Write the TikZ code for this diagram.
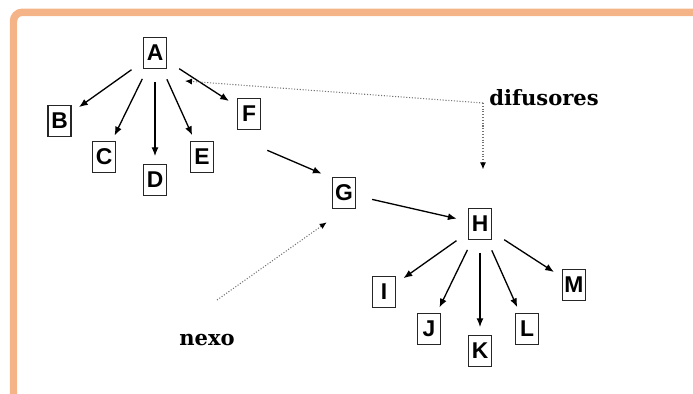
\documentclass[tikz,border=0pt]{standalone}
\usepackage{fontspec}
\setmainfont{Liberation Sans}
\newfontfamily\slabfont{DejaVu Serif}
\usetikzlibrary{arrows.meta}
\definecolor{frameorange}{RGB}{245,180,136}

\begin{document}
\begin{tikzpicture}[x=0.02cm, y=-0.02cm,
		c/.style={draw=black!85, line width=1pt, minimum width=13pt, minimum height=17.6pt, inner sep=0pt, font=\fontsize{13}{13}\selectfont\bfseries},
		l/.style={-{Latex[length=5pt,width=4pt]}, line width=0.75pt, shorten <=16.4pt, shorten >=13.6pt},
		p/.style={-{Latex[length=4pt,width=3.5pt,black]}, densely dotted, black!55, line width=0.6pt},
		t/.style={font=\slabfont\fontsize{12}{12}\selectfont\bfseries}]
		\useasboundingbox (0,0) rectangle (693,394);
		\draw[frameorange, line width=4.25pt, rounded corners=5pt] (13.5,394) -- (13.5,12.3) -- (693,12.3);

		% first tree
		\node[c] (a) at (155,53) {A};
		\node[c] (b) at (59.5,121) {B};
		\node[c] (c) at (104,157) {C};
		\node[c] (d) at (155,180) {D};
		\node[c] (e) at (202,157) {E};
		\node[c] (f) at (249,114) {F};
		\node[c] (g) at (344,193) {G};

		% second tree
		\node[c] (h) at (480,224) {H};
		\node[c] (i) at (384,292) {I};
		\node[c] (j) at (429,329) {J};
		\node[c] (k) at (480,351) {K};
		\node[c] (l) at (527,329) {L};
		\node[c] (m) at (574,285) {M};

		\node[t] (dif) at (544,98) {difusores};
		\node[t] (nexo) at (207,340) {nexo};
		\coordinate (knee) at (483,103);
		\coordinate (tipa) at (185,81);
		\coordinate (tail) at (217,300);

		\path[l] (a.center) edge (b.center);
		\path[l] (a.center) edge (c.center);
		\path[l] (a.center) edge (d.center);
		\path[l] (a.center) edge (e.center);
		\path[l] (a.center) edge (f.center);
		\draw[l, shorten <=0pt, shorten >=0pt] ([shift={(6,20)}]f.south east) -- ([shift={(-10,-3)}]g.north west);
		\path[l] (g.center) edge (h.center);
		\path[l] (h.center) edge (i.center);
		\path[l] (h.center) edge (j.center);
		\path[l] (h.center) edge (k.center);
		\path[l] (h.center) edge (l.center);
		\path[l] (h.center) edge (m.center);

		\draw[p] (knee) -- (tipa);
		\draw[p, shorten >=21.8pt] (knee) -- (knee |- h.north);
		\draw[p] (tail) -- ([shift={(-5,13)}]g.south west);
	\end{tikzpicture}
\end{document}
